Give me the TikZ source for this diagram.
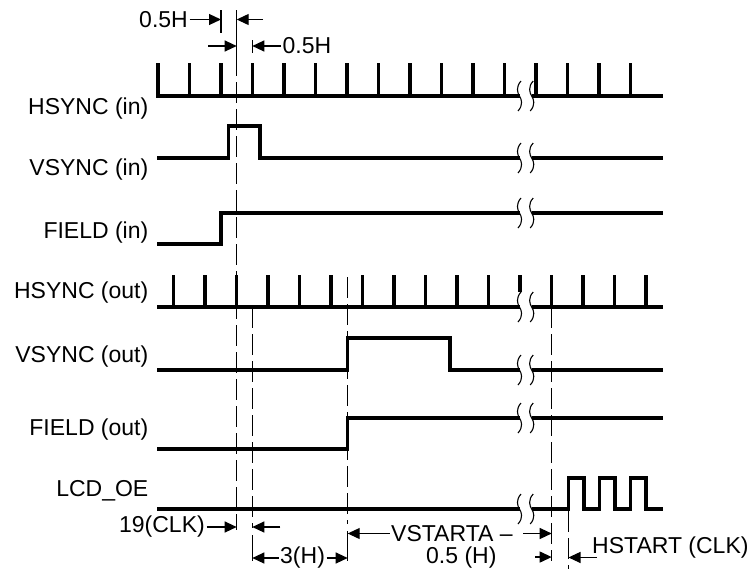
\documentclass[tikz,border=0pt]{standalone}
\usepackage{fontspec}
\setmainfont{Liberation Sans}
\usepackage{tikz}
\usetikzlibrary{arrows.meta,calc}
\newcommand{\sigfont}{\fontsize{23}{27}\selectfont}
\tikzset{
    sig/.style={line width=3.2pt, line join=miter},
    guide/.style={line width=1.1pt, dash pattern=on 21pt off 6pt},
    ext/.style={line width=1.1pt},
    dim/.style={-{Triangle[length=12pt,width=11pt]}, line width=1.2pt},
    lbl/.style={font=\sigfont, inner sep=1.5pt},
    brk/.pic={\draw[line width=1.1pt] (1.5,-15) .. controls (-4,-9) and (-2,-3) .. (0,0)
                                     .. controls (2,3) and (4,9) .. (-1.5,15);},
}

\begin{document}
\begin{tikzpicture}[x=1pt, y=-1pt]
    \useasboundingbox (0,0) rectangle (754,579);

    % time marks
    \coordinate (ta) at (221,0);
    \coordinate (tb) at (236.7,0);
    \coordinate (tc) at (252.3,0);
    \coordinate (td) at (347.7,0);
    \coordinate (te) at (551.7,0);
    \coordinate (tf) at (568.5,0);

    % signal names
    \node[lbl, anchor=base east] (hsin)  at (150,114) {HSYNC (in)};
    \node[lbl, anchor=base east] (vsin)  at (150,175) {VSYNC (in)};
    \node[lbl, anchor=base east] (fdin)  at (150,238) {FIELD (in)};
    \node[lbl, anchor=base east] (hsout) at (150,298.5) {HSYNC (out)};
    \node[lbl, anchor=base east] (vsout) at (150,362) {VSYNC (out)};
    \node[lbl, anchor=base east] (fdout) at (150,435) {FIELD (out)};
    \node[lbl, anchor=base east] (lcdoe) at (150,496) {LCD\_OE};

    % guides
    \draw[ext]   (221,10) -- (221,33);
    \draw[ext]   (236.7,10) -- (236.7,55);
    \draw[guide] (236.7,55) -- (236.7,530);
    \draw[ext]   (252.3,40) -- (252.3,53);
    \draw[guide] (252.3,307) -- (252.3,528);
    \draw[ext]   (252.3,535) -- (252.3,561);
    \draw[guide] (347.7,277) -- (347.7,524);
    \draw[ext]   (347.7,531) -- (347.7,561);
    \draw[guide] (551.7,307) -- (551.7,561);
    \draw[guide] (568.5,511) -- (568.5,569);

    % HSYNC (in)
    \draw[sig] (158,63) -- (158,96) -- (519.5,96) (531.7,96) -- (663,96);
    \foreach \k in {1,...,15}
        \draw[sig] ({158+31.5*\k},63) -- ++(0,33);

    % VSYNC (in)
    \draw[sig] (157,158) -- (228.5,158) -- (228.5,126) -- (260,126) -- (260,158)
               -- (519.5,158) (531.7,158) -- (663,158);

    % FIELD (in)
    \draw[sig] (157,244) -- (221,244) -- (221,213) -- (519.5,213) (531.7,213) -- (663,213);

    % HSYNC (out)
    \draw[sig] (157,307) -- (519.5,307) (531.7,307) -- (663,307);
    \foreach \k in {0,...,10,12,13,14,15}
        \draw[sig] ({173.5+31.5*\k},275) -- ++(0,32);
    \draw[sig] (520,275) -- (520,292);

    % VSYNC (out)
    \draw[sig] (157,370) -- (347.7,370) -- (347.7,338) -- (450,338) -- (450,370)
               -- (519.5,370) (531.7,370) -- (663,370);

    % FIELD (out)
    \draw[sig] (157,449) -- (347.7,449) -- (347.7,418) -- (519.5,418) (531.7,418) -- (663,418);

    % LCD_OE
    \draw[sig] (157,509) -- (519.5,509) (531.7,509) -- (568.5,509)
        \foreach \p in {0,1,2} {
            -- ({568.5+31*\p},478) -- ({584+31*\p},478) -- ({584+31*\p},509) -- ({599.5+31*\p},509)
        } -- (663,509);

    % breaks
    \foreach \y in {96,158,213,307,370,418,509} {
        \pic at (519.5,\y) {brk};
        \pic at (531.7,\y) {brk};
    }

    % 0.5H dimensions
    \node[lbl, anchor=east] (hh1) at (189.5,19.5) {0.5H};
    \draw[dim] (hh1.east) -- (hh1.east -| ta);
    \draw[dim] ($(hh1.east -| tb)+(26.3,0)$) -- (hh1.east -| tb);
    \node[lbl, anchor=west] (hh2) at (281,46) {0.5H};
    \draw[dim] (hh2.west) -- (hh2.west -| tc);
    \draw[dim] ($(hh2.west -| tb)+(-28.7,0)$) -- (hh2.west -| tb);

    % 19(CLK)
    \node[lbl, anchor=east] (clk) at (206.5,527) {19(CLK)};
    \draw[dim] (clk.east) -- (clk.east -| tb);
    \draw[dim] ($(clk.east -| tc)+(28,0)$) -- (clk.east -| tc);

    % 3(H)
    \node[lbl, anchor=west] (th) at (278.5,558) {3(H)};
    \draw[dim] (th.west) -- (th.west -| tc);
    \draw[dim] (th.east) -- (th.east -| td);

    % VSTARTA - 0.5 (H)
    \node[lbl, anchor=west] (vs1) at (389.5,533.5) {VSTARTA –};
    \node[lbl, anchor=base west] (vs2) at (424.5,563) {0.5 (H)};
    \draw[dim] (vs1.west) -- (vs1.west -| td);
    \draw[dim] ($(vs1.east)+(9,0)$) -- (vs1.east -| te);
    \draw[dim] ($(vs2.east)+(37,0)$) -- (vs2.east -| te);

    % HSTART (CLK)
    \node[lbl, anchor=base west] (hst) at (590.5,553) {HSTART (CLK)};
    \draw[dim] ($(hst.south west)+(6,-2)$) -- ($(hst.south west -| tf)+(0,-2)$);
\end{tikzpicture}
\end{document}
